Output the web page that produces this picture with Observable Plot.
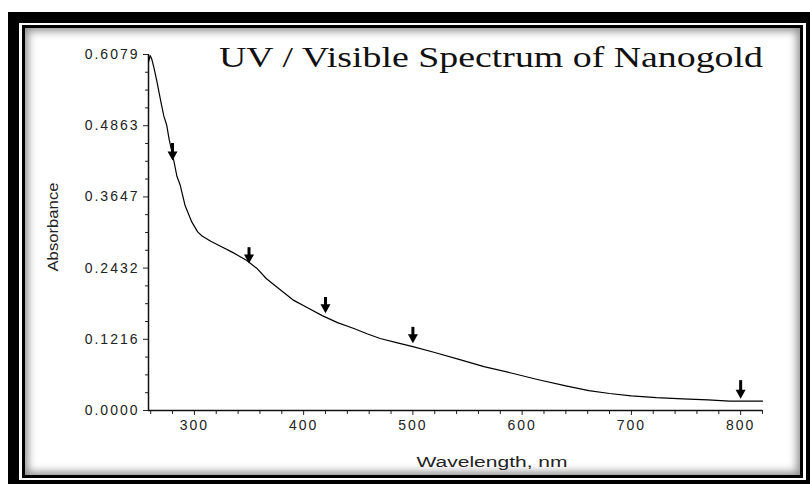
<!DOCTYPE html>
<html>
<head>
<meta charset="utf-8">
<script src="https://cdn.jsdelivr.net/npm/d3@7"></script>
<script src="https://cdn.jsdelivr.net/npm/@observablehq/plot@0.6"></script>
<style>
  html, body { margin: 0; padding: 0; background: #fff; width: 810px; height: 484px; overflow: hidden; }
  #wrap { position: relative; width: 810px; height: 484px; }
  .frame { position: absolute; box-sizing: border-box; }
  #outer { left: 8px; top: 12px; width: 802px; height: 472px; background: #000; }
  #gap { left: 19px; top: 23px; width: 787px; height: 457px; background: #fff; }
  #inner { left: 22px; top: 25px; width: 781px; height: 453px; border: 3px solid #000; background: #fff;
           box-shadow: inset 0 0 9px 3px rgba(0,0,0,0.45); }
  #chart { position: absolute; left: 0; top: 0; }
  #chart svg text { letter-spacing: 2px; }
  #overlay { position: absolute; left: 0; top: 0; }
</style>
</head>
<body>
<div id="wrap">
  <div class="frame" id="outer"></div>
  <div class="frame" id="gap"></div>
  <div class="frame" id="inner"></div>
  <div id="chart"></div>
  <svg id="overlay" width="810" height="484"></svg>
</div>
<script>
// Spectrum values
const wavelength = [258, 259.5, 261, 263, 265.6, 268, 270, 272, 274.7, 277, 280.8, 284, 287, 291.5, 297.6, 303, 307, 315, 323.5, 335, 348, 357, 366, 378, 391, 404, 417, 431, 446, 458, 470, 485, 500, 520, 543, 565, 590, 614, 640, 661, 680, 700, 723, 747, 770, 790, 800, 820];
const absorbance = [0.595, 0.606, 0.600, 0.585, 0.563, 0.540, 0.521, 0.503, 0.487, 0.462, 0.430, 0.400, 0.385, 0.350, 0.322, 0.305, 0.298, 0.289, 0.281, 0.270, 0.256, 0.243, 0.225, 0.207, 0.188, 0.175, 0.162, 0.150, 0.140, 0.131, 0.123, 0.116, 0.109, 0.099, 0.087, 0.075, 0.064, 0.053, 0.042, 0.034, 0.029, 0.025, 0.022, 0.020, 0.018, 0.016, 0.016, 0.016];

// Arrow markers
const arrowWl = [280, 350, 420, 500, 800];
const arrowTop = [0.456, 0.278, 0.193, 0.142, 0.051];
const arrowTip = [0.427, 0.251, 0.166, 0.115, 0.020];

// Axes
const yTicks = [0, 0.1216, 0.2432, 0.3647, 0.4863, 0.6079];
const xTicks = [300, 400, 500, 600, 700, 800];
const xDomain = [258, 820];
const yDomain = [0, 0.6079];
const titleText = "UV / Visible Spectrum of Nanogold";
const xLabel = "Wavelength, nm";
const yLabel = "Absorbance";

const data = wavelength.map((w, i) => ({w, a: absorbance[i]}));
const arrows = arrowWl.map((w, i) => ({w, top: arrowTop[i], tip: arrowTip[i]}));
const xMinor = d3.range(260, 821, 20).filter(v => !xTicks.includes(v));
const yMinor = d3.range(0.0304, 0.6079, 0.0304).filter(v => !yTicks.some(t => Math.abs(t - v) < 0.005));

// Down-pointing filled arrow head, tip at +5
const headDown = {
  draw(context) {
    context.moveTo(-5, -4);
    context.lineTo(5, -4);
    context.lineTo(0, 5);
    context.closePath();
  }
};

const chart = Plot.plot({
  width: 810,
  height: 484,
  marginLeft: 148,
  marginRight: 48,
  marginTop: 54,
  marginBottom: 74,
  style: { background: "transparent", fontFamily: "'Liberation Sans', Arial, sans-serif", fontSize: "14px", color: "#222" },
  x: { domain: xDomain },
  y: { domain: yDomain },
  marks: [
    Plot.axisY({ ticks: yTicks, tickFormat: d3.format(".4f"), tickSize: 5, tickPadding: 4, label: null, fontSize: 14 }),
    Plot.axisY({ ticks: yMinor, tickFormat: () => "", tickSize: 3, label: null }),
    Plot.axisX({ ticks: xTicks, tickFormat: d3.format("d"), tickSize: 5, tickPadding: 5, label: null, fontSize: 14 }),
    Plot.axisX({ ticks: xMinor, tickFormat: () => "", tickSize: 4, label: null }),
    Plot.ruleX([xDomain[0]], { stroke: "#111", strokeWidth: 1.5 }),
    Plot.ruleY([0], { stroke: "#111", strokeWidth: 1.5 }),
    Plot.line(data, { x: "w", y: "a", stroke: "#000", strokeWidth: 1.2 }),
    Plot.ruleX(arrows, { x: "w", y1: "top", y2: "tip", stroke: "#000", strokeWidth: 3, insetBottom: 4 }),
    Plot.dot(arrows, { x: "w", y: "tip", symbol: headDown, fill: "#000", stroke: "none", dy: -5 })
  ]
});
document.getElementById("chart").appendChild(chart);

const ov = d3.select("#overlay");
ov.append("text")
  .attr("x", 763).attr("y", 67)
  .attr("text-anchor", "end")
  .attr("font-family", "'Liberation Serif', 'DejaVu Serif', serif")
  .attr("font-size", 30)
  .attr("fill", "#111")
  .attr("textLength", 544)
  .attr("lengthAdjust", "spacingAndGlyphs")
  .text(titleText);
ov.append("text")
  .attr("x", 492).attr("y", 463)
  .attr("text-anchor", "middle")
  .attr("dominant-baseline", "middle")
  .attr("font-family", "'Liberation Sans', Arial, sans-serif")
  .attr("font-size", 14)
  .attr("fill", "#222")
  .attr("textLength", 151)
  .attr("lengthAdjust", "spacingAndGlyphs")
  .text(xLabel);
ov.append("text")
  .attr("transform", "translate(54,227) rotate(-90)")
  .attr("text-anchor", "middle")
  .attr("dominant-baseline", "middle")
  .attr("font-family", "'Liberation Sans', Arial, sans-serif")
  .attr("font-size", 14)
  .attr("fill", "#222")
  .attr("textLength", 89)
  .attr("lengthAdjust", "spacingAndGlyphs")
  .text(yLabel);
</script>
</body>
</html>
